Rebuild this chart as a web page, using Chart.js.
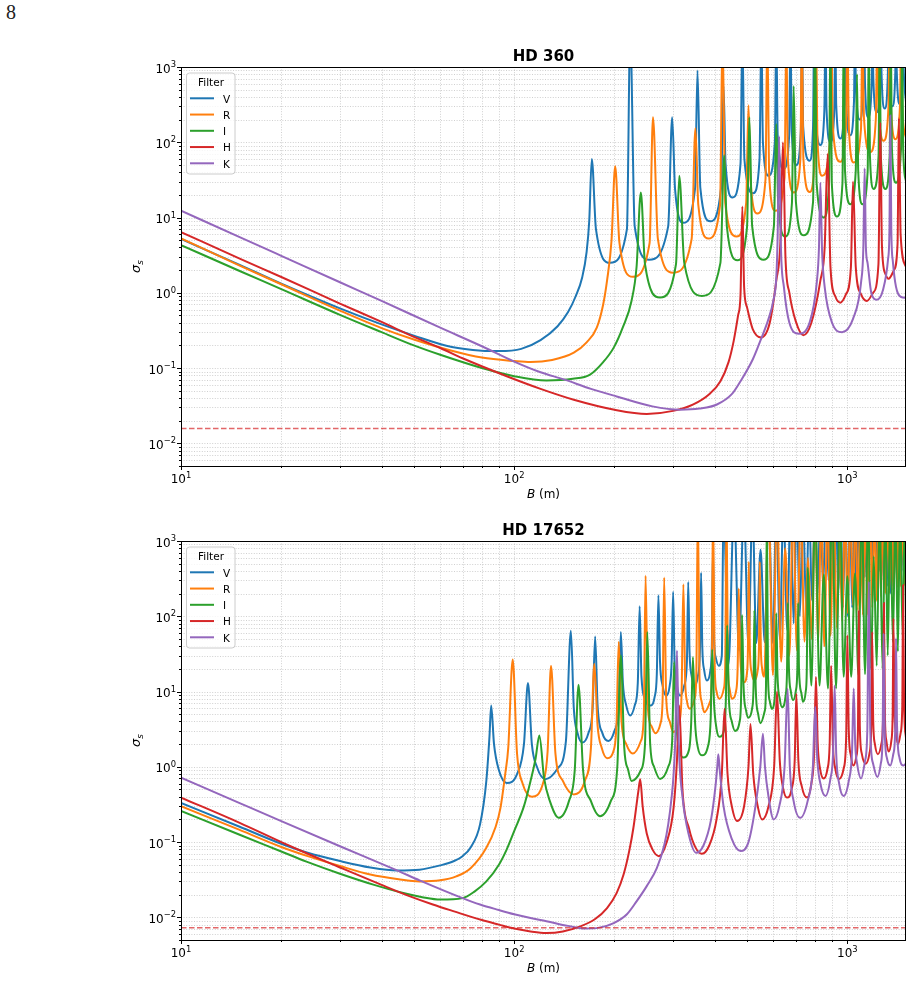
<!DOCTYPE html>
<html>
<head>
<meta charset="utf-8">
<script src="https://cdn.jsdelivr.net/npm/chart.js@4.4.1/dist/chart.umd.min.js"></script>
<style>
  body { margin: 0; background: #fff; width: 913px; height: 1005px; overflow: hidden; position: relative; }
  canvas { position: absolute; left: 0; }
  #pageNo { position: absolute; left: 6px; top: 1px; font: 20px "Liberation Serif", "DejaVu Serif", serif; color: #222; }
</style>
</head>
<body>
<div id="pageNo">8</div>
<canvas id="c1" width="913" height="500" style="top:0"></canvas>
<canvas id="c2" width="913" height="505" style="top:500px"></canvas>
<script>
// axis ticks (decades that carry a label)
const xDecades = [10, 100, 1000]
const yDecades = [0.01, 0.1, 1, 10, 100, 1000]
const filters = ["V", "R", "I", "H", "K"]

// HD 360 : [B (m), sigma_s] (3000 = off the top)
const hd360V = [[10,5.2],[15,2.35],[20,1.32],[30,0.62],[40,0.38],[50,0.27],[65,0.19],[80,0.17],[90,0.168],[105,0.18],[120,0.235],[135,0.36],[145,0.55],[153,0.9],[160,1.6],[165,3.5],[168,9],[171,60],[176,7],[194,2.5],[218,7],[223,3000],[230,7.7],[254,2.75],[290,7.7],[298,215],[304,24],[322,8.5],[349,24],[355,900],[362,25],[388,8.9],[418,25],[425,560],[431,52],[452,18.5],[478,52],[484,3000],[491,59],[522,21],[545,59],[552,3000],[558,100],[580,36],[606,100],[612,3000],[618,123],[644,44],[669,123],[675,3000],[681,140],[703,50],[725,140],[731,3000],[737,160],[771,57],[789,160],[795,3000],[802,258],[830,92],[853,258],[860,3000],[866,280],[890,100],[914,280],[920,3000],[926,314],[953,112],[979,314],[985,3000],[992,347],[1020,124],[1047,347],[1054,3000],[1061,560],[1090,200],[1116,560],[1123,3000],[1130,600],[1155,215],[1183,600],[1190,3000],[1197,700],[1225,250],[1253,700],[1260,3000],[1267,780],[1295,280],[1323,780],[1330,3000],[1337,840],[1365,300],[1393,840],[1400,3000],[1407,900],[1435,320],[1463,900],[1470,3000],[1477,900],[1500,340]]
const hd360R = [[10,5.3],[15,2.3],[20,1.3],[30,0.58],[40,0.34],[50,0.24],[65,0.17],[80,0.138],[100,0.124],[112,0.12],[130,0.128],[151,0.16],[165,0.22],[177,0.344],[185,0.7],[190,1.45],[196,5],[201,48],[207,4.6],[227,1.63],[255,4.6],[261,215],[270,5.2],[300,1.85],[341,5.2],[350,154],[357,14.7],[383,5.25],[415,14.7],[422,3000],[430,15.7],[465,5.6],[497,15.7],[505,310],[512,32],[537,11.3],[568,32],[575,3000],[583,34],[608,12.3],[648,34],[656,3000],[663,60],[691,21.5],[723,60],[730,3000],[738,61],[771,21.8],[798,61],[805,3000],[814,100],[840,36],[886,100],[895,3000],[905,154],[953,55],[990,154],[1000,3000],[1011,150],[1045,54],[1099,150],[1110,3000],[1122,207],[1173,74],[1218,207],[1230,3000],[1241,294],[1285,105],[1329,294],[1340,3000],[1351,308],[1395,110],[1439,308],[1450,3000],[1461,300],[1500,115]]
const hd360I = [[10,4.3],[15,1.95],[20,1.12],[30,0.51],[40,0.3],[50,0.2],[60,0.15],[80,0.1],[100,0.078],[125,0.0685],[150,0.072],[169,0.082],[185,0.12],[199,0.187],[212,0.35],[225,0.78],[233,2.2],[240,21.5],[247,2.4],[274,0.865],[306,2.4],[313,36],[324,2.5],[366,0.91],[416,2.5],[427,67],[435,7.5],[468,2.7],[500,7.5],[508,215],[518,7.7],[560,2.75],[602,7.7],[612,175],[620,15.7],[651,5.6],[682,15.7],[690,560],[701,16],[740,5.8],[789,16],[800,3000],[809,28],[850,10],[881,28],[890,3000],[898,29],[931,10.3],[967,29],[975,3000],[984,42],[1021,15],[1060,42],[1069,800],[1078,42],[1110,15],[1151,42],[1160,3000],[1169,67],[1199,24],[1241,67],[1250,3000],[1260,67],[1301,24],[1340,67],[1350,3000],[1361,81],[1400,29],[1449,81],[1460,3000],[1471,81],[1500,30]]
const hd360H = [[10,6.4],[15,2.85],[20,1.62],[30,0.72],[40,0.41],[50,0.26],[60,0.185],[70,0.135],[95,0.078],[120,0.053],[151,0.038],[200,0.028],[250,0.0246],[300,0.027],[345,0.033],[385,0.045],[416,0.067],[440,0.12],[456,0.23],[470,0.5],[478,0.95],[484,14],[490,1.2],[500,0.64],[520,0.33],[551,0.255],[585,0.4],[612,1.45],[630,5],[641,100],[652,3],[670,1],[700,0.42],[738,0.273],[780,0.4],[830,1.45],[855,4],[873,70],[890,2.2],[920,0.9],[953,0.74],[990,0.95],[1025,2.2],[1040,30],[1060,2.2],[1100,0.95],[1145,0.78],[1195,1.0],[1240,2.4],[1256,181],[1270,4.3],[1300,1.8],[1330,1.54],[1380,2.0],[1415,4.5],[1428,209],[1445,6],[1500,2.2]]
const hd360K = [[10,12.3],[15,5.5],[20,3.1],[30,1.38],[40,0.78],[60,0.344],[80,0.195],[100,0.122],[120,0.088],[141,0.0707],[170,0.053],[203,0.042],[260,0.031],[315,0.028],[360,0.029],[406,0.0328],[450,0.045],[478,0.067],[520,0.13],[548,0.23],[580,0.45],[600,0.8],[612,1.6],[618,6],[624,120],[632,4],[645,1.2],[670,0.4],[714,0.286],[770,0.4],[810,1.4],[822,4],[830,29],[840,3.5],[855,1.2],[900,0.4],[964,0.3],[1040,0.45],[1100,1.4],[1117,4],[1127,45],[1137,4],[1150,2.5],[1180,1.0],[1225,0.81],[1280,1.1],[1325,2.8],[1338,7],[1346,227],[1355,7],[1370,2.6],[1400,1.2],[1450,0.88],[1500,0.86]]
const hd360Limit = 0.0157

// HD 17652
const hd17652V = [[10,0.33],[15,0.16],[20,0.095],[24,0.072],[30,0.056],[37,0.046],[44.5,0.042],[52,0.043],[60,0.049],[66,0.056],[70,0.065],[74,0.085],[79,0.172],[82.5,0.65],[84.3,2.5],[85.3,6.5],[87,2],[90,0.9],[95,0.61],[102,0.8],[107,2],[110,13],[113,2],[117,1.0],[124,0.685],[135,0.95],[143,2.2],[148,64],[151,6],[155,2.8],[160,2.1],[167,2.8],[172,6],[175,54],[178,6.5],[184,2.8],[192,2.2],[200,3],[206,6.5],[209,62],[212,13],[217,6.5],[223,4.8],[230,6.5],[235,13],[238,136],[241,16],[247,8],[256,6.5],[264,8.5],[268,17],[271,190],[274,25],[279,12],[286,8.8],[293,12],[297,25],[300,211],[303,25],[308,12],[315,8.8],[324,12],[330,25],[333,286],[336,34],[341,16],[348,12],[356,16],[361,34],[364,378],[367,39],[372,19],[379,14],[388,19],[392,40],[395,800],[398,50],[403,28],[411,22],[420,30],[425,3000],[440,23],[457,3000],[473,35],[489,3000],[505,40],[519,3000],[533,44],[549,765],[565,45],[580,3000],[598,44],[612,3000],[627,50],[643,3000],[660,66],[675,3000],[690,80],[705,3000],[720,100],[736,3000],[752,130],[768,3000],[783,163],[800,3000],[815,200],[830,3000],[846,250],[862,3000],[878,300],[893,3000],[910,316],[924,3000],[940,200],[955,3000],[970,130],[987,3000],[1003,100],[1018,3000],[1034,130],[1050,3000],[1065,180],[1080,3000],[1096,250],[1112,3000],[1128,330],[1143,3000],[1159,400],[1175,3000],[1190,450],[1205,3000],[1220,500],[1237,3000],[1252,400],[1268,3000],[1284,300],[1300,3000],[1315,250],[1330,3000],[1346,200],[1362,3000],[1377,250],[1393,3000],[1409,300],[1425,3000],[1440,350],[1456,3000],[1472,400],[1488,3000],[1500,600]]
const hd17652R = [[10,0.3],[15,0.145],[20,0.086],[24,0.065],[30,0.048],[37,0.037],[45,0.032],[52,0.03],[60,0.031],[67,0.035],[74,0.045],[82.5,0.084],[88,0.16],[91,0.287],[94,0.8],[96,1.8],[99,26.7],[102,1.5],[106,0.6],[113,0.4],[122,0.6],[126,1.6],[129,22],[133,1.5],[140,0.65],[151,0.43],[163,0.65],[170,1.8],[174,23.4],[178,3.5],[183,1.8],[190,1.3],[200,1.8],[203,4],[206,46],[210,4],[217,2.0],[227,1.5],[240,2.2],[245,5],[248,345],[252,6],[258,3.5],[265,2.8],[275,3.8],[279,8],[282,328],[286,8],[293,4],[300,2.9],[313,4],[318,9],[322,267],[326,14],[330,7.5],[337,5.9],[348,8],[352,15],[356,3000],[360,15],[365,7.5],[372,5.3],[388,7.5],[392,15],[395,3000],[400,20],[405,10],[413,8],[426,11],[430,22],[434,3000],[438,22],[443,11],[450,8],[465,11],[469,25],[472,234],[477,30],[482,17],[490,13.3],[500,18],[503,35],[506,530],[510,35],[516,18],[526,14],[538,19],[543,40],[546,530],[550,40],[555,20],[563,15.7],[580,3000],[598,16.5],[615,3000],[633,25],[651,800],[670,30],[687,3000],[706,35],[725,3000],[744,46],[762,600],[781,50],[800,3000],[818,45],[835,3000],[853,40],[872,3000],[890,55],[910,3000],[930,70],[948,1000],[966,85],[984,3000],[1002,110],[1021,3000],[1040,140],[1058,3000],[1076,120],[1095,3000],[1113,104],[1132,3000],[1150,104],[1170,3000],[1188,130],[1206,3000],[1225,160],[1244,3000],[1262,180],[1280,3000],[1300,200],[1318,3000],[1336,203],[1354,3000],[1373,220],[1392,3000],[1410,240],[1428,3000],[1447,250],[1466,3000],[1485,260],[1500,3000]]
const hd17652I = [[10,0.26],[15,0.125],[20,0.075],[23.8,0.055],[30,0.038],[38,0.027],[46.5,0.021],[53,0.0185],[60,0.0172],[70,0.018],[76,0.022],[82.5,0.03],[90,0.05],[95,0.08],[100,0.14],[107,0.3],[112,0.65],[116,1.3],[119,2.6],[123,0.7],[128,0.35],[136,0.21],[146,0.35],[152,0.9],[156,12.3],[161,0.9],[170,0.35],[181,0.22],[195,0.35],[204,1.0],[209,30],[214,1.8],[220,0.9],[225,0.65],[240,0.9],[247,2],[251,62],[256,2],[263,1.0],[274,0.69],[290,1.0],[298,2.2],[302,24.6],[307,3.5],[314,1.6],[322,1.33],[335,1.7],[340,4],[344,28.7],[349,4],[356,1.8],[366,1.42],[382,1.9],[389,4.5],[393,36],[398,7],[405,3.2],[413,2.5],[428,3.3],[432,8],[436,76],[441,8],[450,4],[460,3.0],[475,4],[480,9],[483,104],[488,12],[497,5.5],[505,4.5],[518,6],[523,12],[526,120],[531,11],[540,5],[549,3.8],[565,5.5],[570,12],[573,3000],[578,16],[585,7.5],[593,5.9],[605,8],[609,17],[612,110],[617,17],[627,8],[637,6.2],[652,8.5],[659,18],[663,150],[668,20],[677,10],[687,7.7],[700,10],[708,20],[712,150],[716,20],[728,9.5],[736,7.3],[750,10],[756,22],[760,440],[780,12],[800,3000],[825,12],[850,360],[875,11],[900,3000],[925,11],[950,3000],[975,15.7],[1000,340],[1027,15.7],[1054,370],[1080,16.5],[1105,3000],[1130,17],[1155,3000],[1177,20],[1200,625],[1225,22],[1250,3000],[1275,20],[1300,3000],[1322,30],[1345,3000],[1370,45],[1395,3000],[1418,34],[1440,3000],[1465,56],[1490,3000],[1500,200]]
const hd17652H = [[10,0.39],[15,0.18],[20,0.1],[24,0.07],[30,0.046],[40,0.027],[48.7,0.019],[57,0.0148],[66,0.012],[80,0.0092],[90,0.008],[100,0.0071],[112,0.0065],[125,0.0062],[140,0.0065],[158,0.0076],[175,0.0095],[190,0.0133],[203,0.021],[213,0.037],[222,0.08],[228,0.155],[236,0.48],[239,0.685],[243,0.3],[250,0.13],[260,0.08],[272,0.065],[287,0.1],[301,0.287],[308,1.2],[313,6.5],[320,0.5],[335,0.15],[350,0.085],[366,0.07],[385,0.09],[405,0.2],[420,0.8],[428,5.9],[437,0.8],[450,0.3],[467,0.19],[490,0.3],[505,1.0],[512,3.7],[522,0.8],[540,0.28],[555,0.2],[580,0.3],[603,1.0],[615,10],[627,1.2],[640,0.55],[659,0.39],[680,0.5],[695,1.2],[703,9.3],[713,1.2],[730,0.55],[757,0.39],[780,0.6],[795,1.5],[805,15.6],[815,2],[828,0.95],[849,0.7],[870,0.9],[885,2],[894,22],[905,2],[920,0.95],[945,0.69],[975,0.95],[992,2.5],[1000,56],[1010,3],[1025,1.4],[1043,1.04],[1065,1.4],[1076,3],[1082,118],[1090,3.5],[1105,1.5],[1135,1.1],[1165,1.5],[1180,3.5],[1187,62],[1196,4],[1210,2],[1235,1.47],[1265,2],[1280,4.5],[1288,150],[1297,4.5],[1310,2.2],[1330,1.6],[1355,2.2],[1368,5],[1375,94],[1385,6],[1400,2.8],[1420,2.0],[1445,2.8],[1462,6.5],[1470,260],[1480,7],[1500,2.4]]
const hd17652K = [[10,0.72],[15,0.33],[20,0.19],[30,0.088],[44.5,0.042],[52,0.031],[70,0.018],[79,0.0148],[90,0.0125],[100,0.011],[112,0.0098],[125,0.0089],[145,0.0077],[163,0.0071],[180,0.0073],[199,0.0084],[218,0.011],[233,0.0163],[250,0.026],[268,0.045],[282,0.09],[290,0.172],[297,0.4],[301,0.8],[305,3],[308,35],[312,2],[320,0.4],[335,0.12],[352,0.072],[370,0.09],[390,0.2],[402,0.55],[407,1.0],[410,1.47],[414,0.9],[425,0.3],[450,0.11],[478,0.076],[505,0.1],[530,0.3],[548,1.0],[558,2.75],[566,1.0],[580,0.4],[601,0.2],[625,0.3],[648,1.0],[662,11],[672,1.0],[690,0.35],[722,0.21],[760,0.35],[788,1.0],[801,6.3],[812,1.3],[830,0.6],[860,0.41],[890,0.7],[906,1.5],[916,12],[926,1.5],[945,0.6],[975,0.41],[1010,0.65],[1033,1.6],[1045,11],[1056,2],[1070,1.1],[1100,0.7],[1130,1.2],[1148,3],[1160,290],[1172,3],[1195,1.1],[1231,0.73],[1260,1.1],[1276,2.5],[1285,59],[1295,3],[1315,1.3],[1346,1.04],[1375,1.5],[1392,3],[1400,51],[1410,3.5],[1435,1.3],[1470,1.04],[1500,1.1]]
const hd17652Limit = 0.0073

const colors = ["#1f77b4", "#ff7f0e", "#2ca02c", "#d62728", "#9467bd"]
const FONT = '"DejaVu Sans", sans-serif'

function gridValues(min, max) {
  const out = []
  for (let e = Math.floor(Math.log10(min)); e <= Math.ceil(Math.log10(max)); e++) {
    for (let m = 1; m <= 9; m++) {
      const v = Number((m * Math.pow(10, e)).toPrecision(6))
      if (v >= min * 0.9999 && v <= max * 1.0001) out.push({ v, major: m === 1 })
    }
  }
  return out
}

function expText(v) {
  const e = Math.round(Math.log10(v))
  return e < 0 ? "\u2212" + Math.abs(e) : String(e)
}

// "10" with a raised exponent; align: "center" or "right"
function drawPow(ctx, v, x, y, align) {
  ctx.font = "12px " + FONT
  const wb = ctx.measureText("10").width
  const ex = expText(v)
  ctx.font = "8.4px " + FONT
  const we = ctx.measureText(ex).width
  const w = wb + we
  const sx = align === "right" ? x - w : x - w / 2
  ctx.textAlign = "left"
  ctx.textBaseline = "alphabetic"
  ctx.font = "12px " + FONT
  ctx.fillText("10", sx, y)
  ctx.font = "8.4px " + FONT
  ctx.fillText(ex, sx + wb, y - 5.5)
}

const axesDecor = {
  id: "axesDecor",
  beforeDatasetsDraw(chart) {
    const { ctx, chartArea: a, scales } = chart
    const x = scales.x, y = scales.y
    ctx.save()
    ctx.strokeStyle = "rgba(176,176,176,0.75)"
    ctx.lineWidth = 0.8
    ctx.setLineDash([1, 1.6])
    for (const g of gridValues(x.min, x.max)) {
      const px = Math.round(x.getPixelForValue(g.v)) + 0.5
      ctx.beginPath(); ctx.moveTo(px, a.top); ctx.lineTo(px, a.bottom); ctx.stroke()
    }
    for (const g of gridValues(y.min, y.max)) {
      const py = Math.round(y.getPixelForValue(g.v)) + 0.5
      ctx.beginPath(); ctx.moveTo(a.left, py); ctx.lineTo(a.right, py); ctx.stroke()
    }
    ctx.restore()
  },
  afterDraw(chart, args, opts) {
    const { ctx, chartArea: a, scales } = chart
    const x = scales.x, y = scales.y
    ctx.save()
    ctx.fillStyle = "#000"
    ctx.strokeStyle = "#000"

    // ticks
    ctx.lineWidth = 1
    for (const g of gridValues(x.min, x.max)) {
      const px = Math.round(x.getPixelForValue(g.v)) + 0.5
      ctx.beginPath(); ctx.moveTo(px, a.bottom); ctx.lineTo(px, a.bottom + (g.major ? 4 : 2)); ctx.stroke()
    }
    for (const g of gridValues(y.min, y.max)) {
      const py = Math.round(y.getPixelForValue(g.v)) + 0.5
      ctx.beginPath(); ctx.moveTo(a.left, py); ctx.lineTo(a.left - (g.major ? 4 : 2), py); ctx.stroke()
    }

    // frame
    ctx.lineWidth = 1
    ctx.strokeRect(Math.round(a.left) + 0.5, Math.round(a.top) + 0.5, Math.round(a.right - a.left) - 1, Math.round(a.bottom - a.top))

    // tick labels
    for (const v of xDecades) drawPow(ctx, v, x.getPixelForValue(v), a.bottom + 17, "center")
    for (const v of yDecades) drawPow(ctx, v, a.left - 5, y.getPixelForValue(v) + 5.5, "right")

    // title
    const cx = (a.left + a.right) / 2
    ctx.font = "bold 15px " + FONT
    ctx.textAlign = "center"
    ctx.fillText(opts.title, cx, a.top - 6)

    // x axis label  B (m)
    ctx.font = "italic 12px " + FONT
    const wB = ctx.measureText("B").width
    ctx.font = "12px " + FONT
    const wm = ctx.measureText(" (m)").width
    let sx = cx - (wB + wm) / 2
    ctx.textAlign = "left"
    ctx.font = "italic 12px " + FONT
    ctx.fillText("B", sx, a.bottom + 32)
    ctx.font = "12px " + FONT
    ctx.fillText(" (m)", sx + wB, a.bottom + 32)

    // y axis label  sigma_s
    ctx.save()
    ctx.translate(a.left - 41, (a.top + a.bottom) / 2)
    ctx.rotate(-Math.PI / 2)
    ctx.font = "italic 13px " + FONT
    const ws = ctx.measureText("\u03c3").width
    ctx.font = "italic 9px " + FONT
    const wsub = ctx.measureText("s").width
    const tx = -(ws + wsub) / 2
    ctx.font = "italic 13px " + FONT
    ctx.fillText("\u03c3", tx, 0)
    ctx.font = "italic 9px " + FONT
    ctx.fillText("s", tx + ws, 3)
    ctx.restore()

    // legend
    const lx = a.left + 5.5, ly = a.top + 6
    ctx.beginPath()
    ctx.roundRect(lx, ly, 48.5, 101, 3)
    ctx.fillStyle = "rgba(255,255,255,0.8)"
    ctx.fill()
    ctx.strokeStyle = "#cccccc"
    ctx.lineWidth = 1
    ctx.stroke()
    ctx.fillStyle = "#000"
    ctx.font = "10.5px " + FONT
    ctx.textAlign = "center"
    ctx.fillText("Filter", lx + 24.5, a.top + 19)
    ctx.textAlign = "left"
    filters.forEach((f, i) => {
      const yy = a.top + 31.3 + i * 16.25
      ctx.strokeStyle = colors[i]
      ctx.lineWidth = 2
      ctx.beginPath(); ctx.moveTo(a.left + 9, yy); ctx.lineTo(a.left + 33, yy); ctx.stroke()
      ctx.fillStyle = "#000"
      ctx.fillText(f, a.left + 42, yy + 4.2)
    })
    ctx.restore()
  },
}

function series(points, i) {
  return {
    label: filters[i],
    data: points.map(p => ({ x: p[0], y: p[1] })),
    borderColor: colors[i],
    borderWidth: 2,
    pointRadius: 0,
    fill: false,
    cubicInterpolationMode: "monotone",
    clip: 0,
    order: 5 - i,
  }
}

function limitLine(v) {
  return {
    label: "limit",
    data: [{ x: 10, y: v }, { x: 1500, y: v }],
    borderColor: "rgba(214,39,40,0.7)",
    borderWidth: 1.5,
    borderDash: [5.5, 2.5],
    pointRadius: 0,
    fill: false,
    clip: 0,
    order: 0,
  }
}

function makeChart(id, title, sets, limit, padding) {
  const ctx = document.getElementById(id).getContext("2d")
  return new Chart(ctx, {
    type: "line",
    data: { datasets: sets.map(series).concat([limitLine(limit)]) },
    options: {
      responsive: false,
      animation: false,
      devicePixelRatio: 1,
      events: [],
      layout: { padding },
      scales: {
        x: { type: "logarithmic", min: 10, max: 1500, display: false },
        y: { type: "logarithmic", min: 0.005, max: 1000, display: false },
      },
      plugins: {
        legend: { display: false },
        tooltip: { enabled: false },
        axesDecor: { title },
      },
    },
    plugins: [axesDecor],
  })
}

makeChart("c1", "HD 360", [hd360V, hd360R, hd360I, hd360H, hd360K], hd360Limit,
  { left: 181, top: 67, right: 7, bottom: 34 })
makeChart("c2", "HD 17652", [hd17652V, hd17652R, hd17652I, hd17652H, hd17652K], hd17652Limit,
  { left: 181, top: 41, right: 7, bottom: 65 })
</script>
</body>
</html>
